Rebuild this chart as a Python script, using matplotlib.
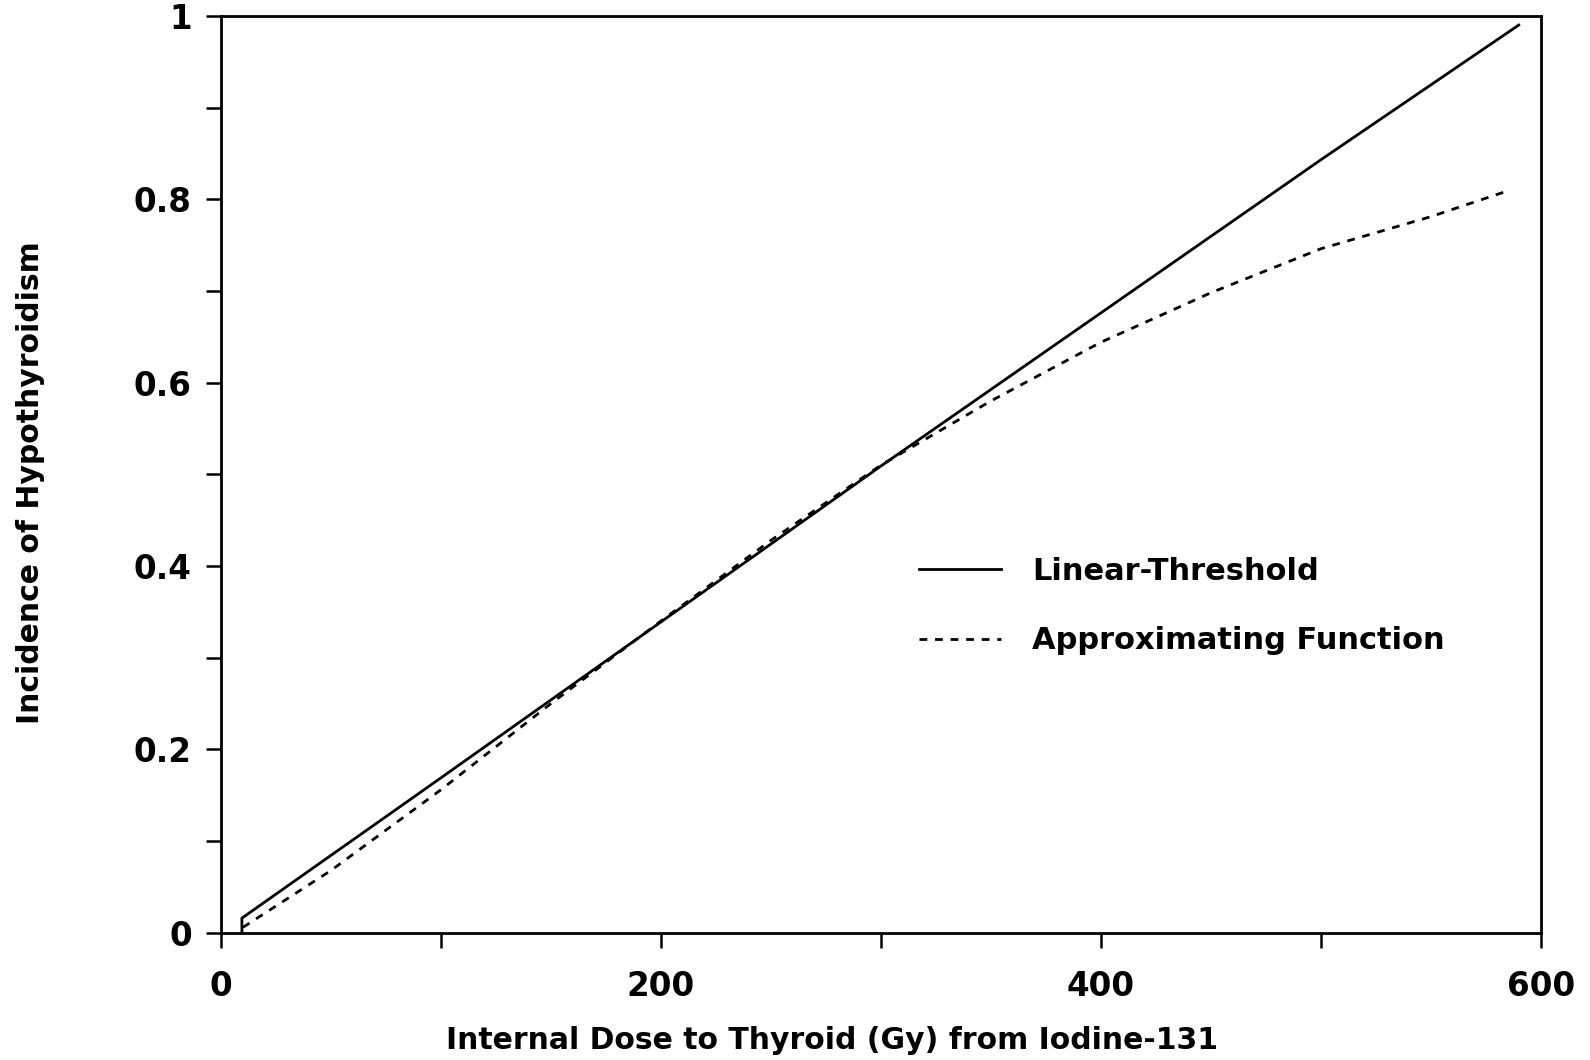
import matplotlib.pyplot as plt
from matplotlib.ticker import MultipleLocator, FuncFormatter

# dose (Gy) and incidence
lt_dose = [9.5, 9.5, 100, 200, 300, 400, 500, 590]
lt_incidence = [0.0, 0.016, 0.169, 0.339, 0.509, 0.676, 0.843, 0.990]

af_dose = [10, 50, 100, 150, 200, 250, 300, 350, 400, 450, 500, 550, 586]
af_incidence = [0.006, 0.068, 0.156, 0.250, 0.340, 0.428, 0.510, 0.580, 0.644, 0.698, 0.746, 0.781, 0.81]

xticks = [0, 200, 400, 600]
yticks = [0, 0.2, 0.4, 0.6, 0.8, 1]

plt.rcParams['font.family'] = ['DejaVu Sans']
plt.rcParams['font.weight'] = 'bold'

fig = plt.figure(figsize=(15.9, 10.6), dpi=100)
ax = fig.add_axes([0.139, 0.12, 0.83, 0.865])

ax.plot(lt_dose, lt_incidence, color='black', lw=2.0, label='Linear-Threshold')
ax.plot(af_dose, af_incidence, color='black', lw=2.0, ls=(0, (2.8, 2.8)),
        label='Approximating Function')

ax.set_xlim(0, 600)
ax.set_ylim(0, 1)
ax.set_xticks(xticks)
ax.set_yticks(yticks)
ax.xaxis.set_minor_locator(MultipleLocator(100))
ax.yaxis.set_minor_locator(MultipleLocator(0.1))
ax.yaxis.set_major_formatter(FuncFormatter(lambda v, p: f'{v:g}'))

for s in ax.spines.values():
    s.set_linewidth(2)
ax.tick_params(which='both', direction='out', length=11, width=1.8,
               labelsize=23.5)
ax.tick_params(axis='x', pad=16)
ax.tick_params(axis='y', pad=10)

ax.set_xlabel('Internal Dose to Thyroid (Gy) from Iodine-131',
              fontsize=21.5, fontweight='bold')
ax.xaxis.set_label_coords(0.463, -0.102)
ax.set_ylabel('Incidence of Hypothyroidism', fontsize=21.5, fontweight='bold')
ax.yaxis.set_label_coords(-0.133, 0.491)

ax.legend(loc='upper left', bbox_to_anchor=(0.508, 0.44), frameon=False,
          fontsize=22, handlelength=2.7, handletextpad=1.0, labelspacing=1.32)

fig.savefig('out.png', dpi=100)
